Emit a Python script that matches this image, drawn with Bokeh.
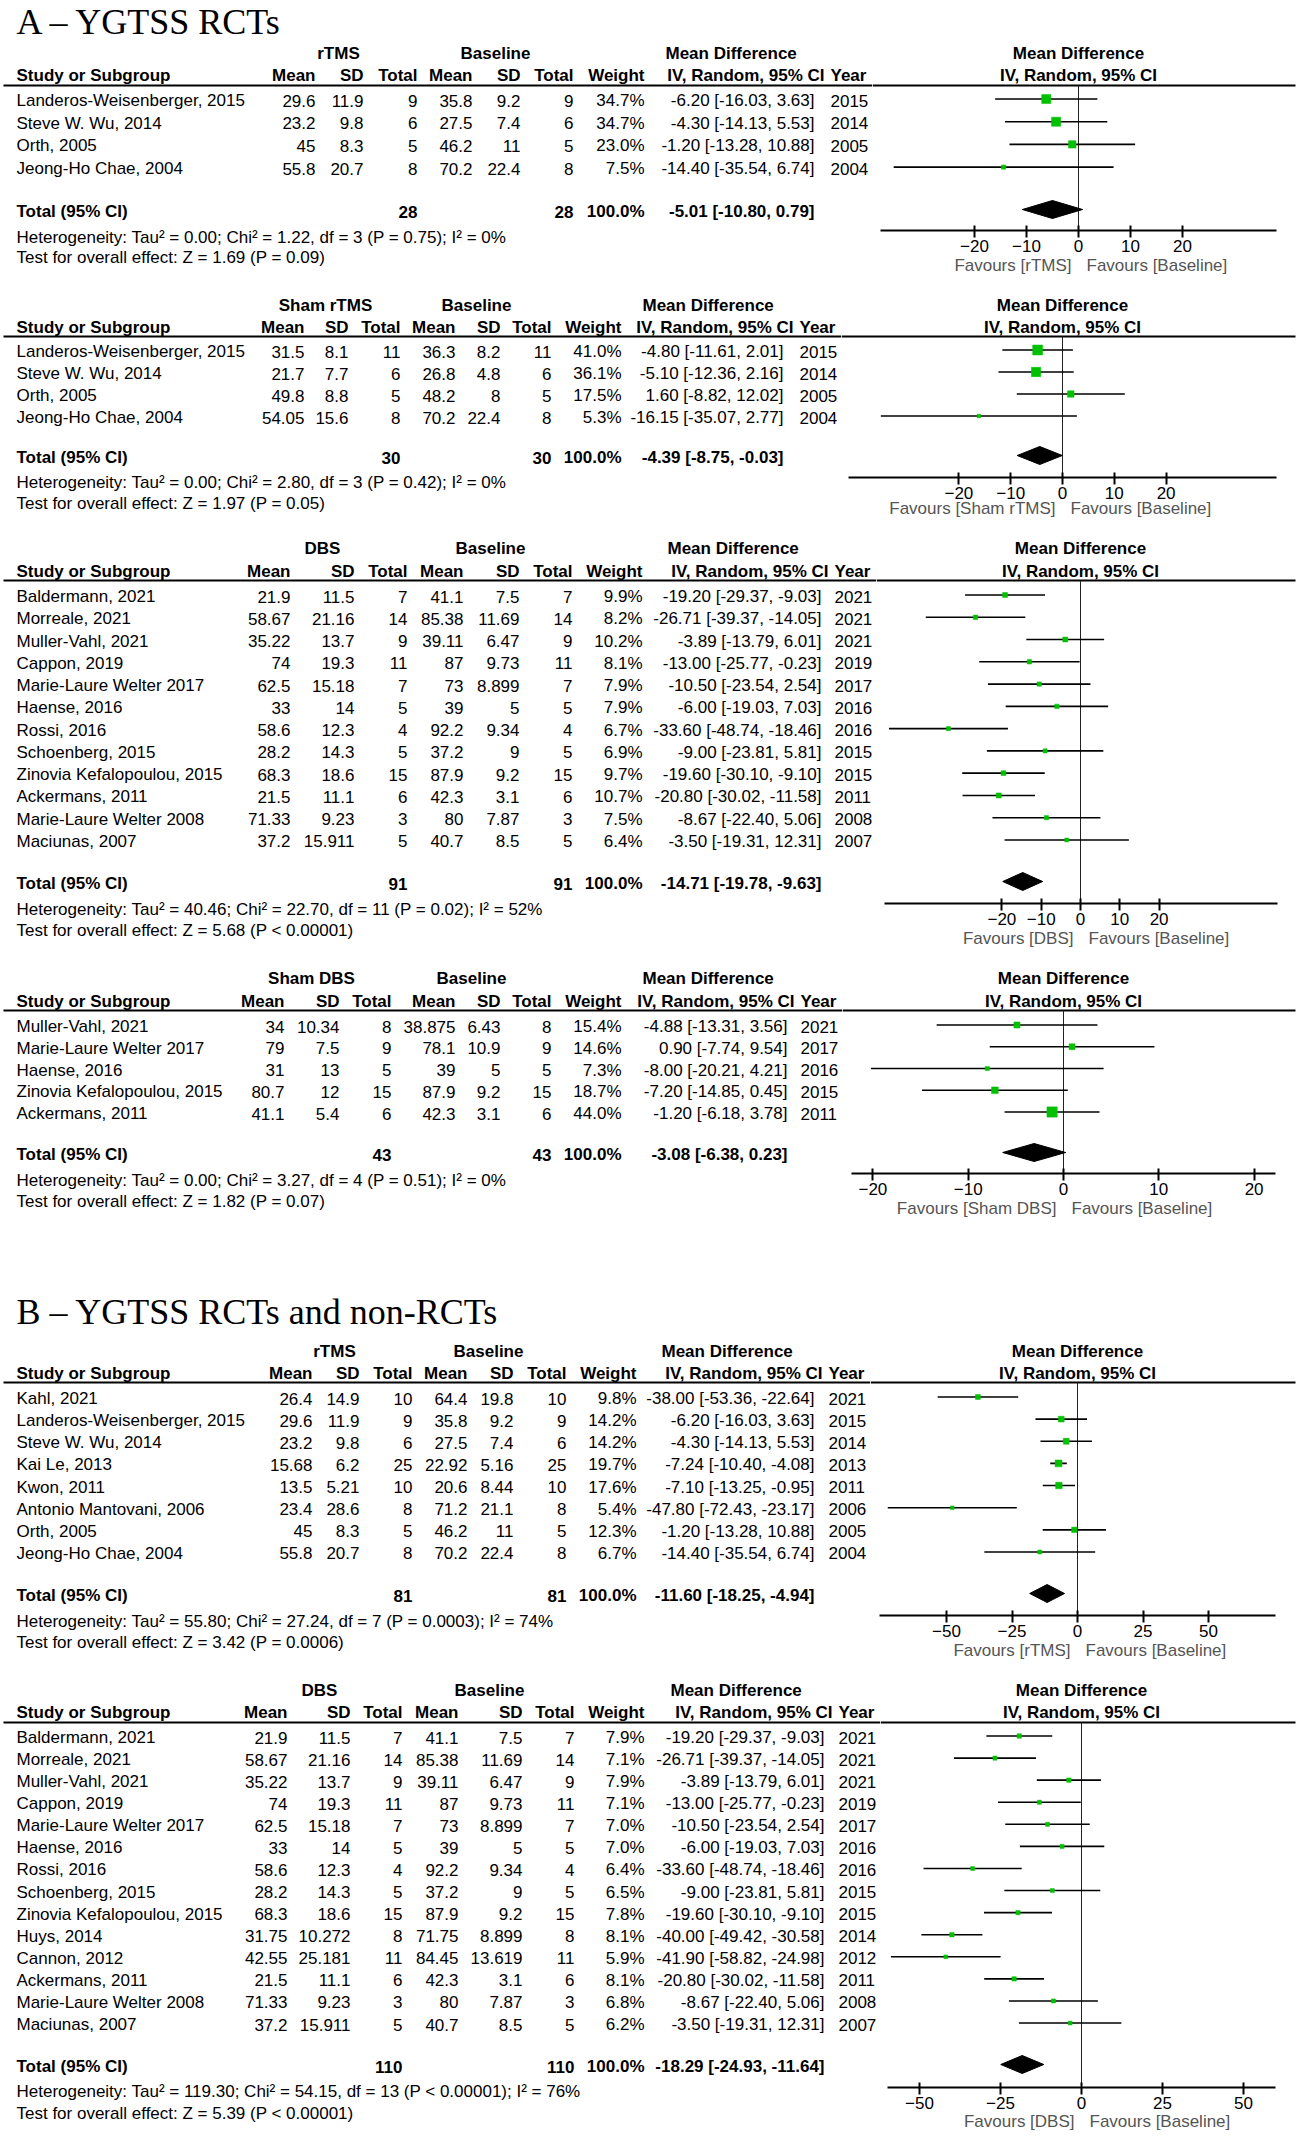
import math
from bokeh.plotting import figure
from bokeh.layouts import column, row
from bokeh.models import Range1d, LinearAxis, FixedTicker
from bokeh.core.properties import value
from bokeh.embed import file_html
from bokeh.resources import INLINE

# ---------------------------------------------------------------- data
# A1 : rTMS vs baseline (RCTs)
A1_group = "rTMS"
A1_study = ["Landeros-Weisenberger, 2015", "Steve W. Wu, 2014", "Orth, 2005", "Jeong-Ho Chae, 2004"]
A1_exp_mean = [29.6, 23.2, 45, 55.8]
A1_exp_sd = [11.9, 9.8, 8.3, 20.7]
A1_exp_n = [9, 6, 5, 8]
A1_base_mean = [35.8, 27.5, 46.2, 70.2]
A1_base_sd = [9.2, 7.4, 11, 22.4]
A1_base_n = [9, 6, 5, 8]
A1_weight = [34.7, 34.7, 23.0, 7.5]
A1_md = [-6.20, -4.30, -1.20, -14.40]
A1_lo = [-16.03, -14.13, -13.28, -35.54]
A1_hi = [3.63, 5.53, 10.88, 6.74]
A1_year = [2015, 2014, 2005, 2004]
A1_total_n = [28, 28]
A1_total_md = [-5.01, -10.80, 0.79]
A1_het = "Heterogeneity: Tau² = 0.00; Chi² = 1.22, df = 3 (P = 0.75); I² = 0%"
A1_test = "Test for overall effect: Z = 1.69 (P = 0.09)"
A1_ticks = [-20, -10, 0, 10, 20]

# A2 : Sham rTMS vs baseline
A2_group = "Sham rTMS"
A2_study = ["Landeros-Weisenberger, 2015", "Steve W. Wu, 2014", "Orth, 2005", "Jeong-Ho Chae, 2004"]
A2_exp_mean = [31.5, 21.7, 49.8, 54.05]
A2_exp_sd = [8.1, 7.7, 8.8, 15.6]
A2_exp_n = [11, 6, 5, 8]
A2_base_mean = [36.3, 26.8, 48.2, 70.2]
A2_base_sd = [8.2, 4.8, 8, 22.4]
A2_base_n = [11, 6, 5, 8]
A2_weight = [41.0, 36.1, 17.5, 5.3]
A2_md = [-4.80, -5.10, 1.60, -16.15]
A2_lo = [-11.61, -12.36, -8.82, -35.07]
A2_hi = [2.01, 2.16, 12.02, 2.77]
A2_year = [2015, 2014, 2005, 2004]
A2_total_n = [30, 30]
A2_total_md = [-4.39, -8.75, -0.03]
A2_het = "Heterogeneity: Tau² = 0.00; Chi² = 2.80, df = 3 (P = 0.42); I² = 0%"
A2_test = "Test for overall effect: Z = 1.97 (P = 0.05)"
A2_ticks = [-20, -10, 0, 10, 20]

# A3 : DBS vs baseline (RCTs)
A3_group = "DBS"
A3_study = ["Baldermann, 2021", "Morreale, 2021", "Muller-Vahl, 2021", "Cappon, 2019",
            "Marie-Laure Welter 2017", "Haense, 2016", "Rossi, 2016", "Schoenberg, 2015",
            "Zinovia Kefalopoulou, 2015", "Ackermans, 2011", "Marie-Laure Welter 2008", "Maciunas, 2007"]
A3_exp_mean = [21.9, 58.67, 35.22, 74, 62.5, 33, 58.6, 28.2, 68.3, 21.5, 71.33, 37.2]
A3_exp_sd = [11.5, 21.16, 13.7, 19.3, 15.18, 14, 12.3, 14.3, 18.6, 11.1, 9.23, 15.911]
A3_exp_n = [7, 14, 9, 11, 7, 5, 4, 5, 15, 6, 3, 5]
A3_base_mean = [41.1, 85.38, 39.11, 87, 73, 39, 92.2, 37.2, 87.9, 42.3, 80, 40.7]
A3_base_sd = [7.5, 11.69, 6.47, 9.73, 8.899, 5, 9.34, 9, 9.2, 3.1, 7.87, 8.5]
A3_base_n = [7, 14, 9, 11, 7, 5, 4, 5, 15, 6, 3, 5]
A3_weight = [9.9, 8.2, 10.2, 8.1, 7.9, 7.9, 6.7, 6.9, 9.7, 10.7, 7.5, 6.4]
A3_md = [-19.20, -26.71, -3.89, -13.00, -10.50, -6.00, -33.60, -9.00, -19.60, -20.80, -8.67, -3.50]
A3_lo = [-29.37, -39.37, -13.79, -25.77, -23.54, -19.03, -48.74, -23.81, -30.10, -30.02, -22.40, -19.31]
A3_hi = [-9.03, -14.05, 6.01, -0.23, 2.54, 7.03, -18.46, 5.81, -9.10, -11.58, 5.06, 12.31]
A3_year = [2021, 2021, 2021, 2019, 2017, 2016, 2016, 2015, 2015, 2011, 2008, 2007]
A3_total_n = [91, 91]
A3_total_md = [-14.71, -19.78, -9.63]
A3_het = "Heterogeneity: Tau² = 40.46; Chi² = 22.70, df = 11 (P = 0.02); I² = 52%"
A3_test = "Test for overall effect: Z = 5.68 (P < 0.00001)"
A3_ticks = [-20, -10, 0, 10, 20]

# A4 : Sham DBS vs baseline
A4_group = "Sham DBS"
A4_study = ["Muller-Vahl, 2021", "Marie-Laure Welter 2017", "Haense, 2016",
            "Zinovia Kefalopoulou, 2015", "Ackermans, 2011"]
A4_exp_mean = [34, 79, 31, 80.7, 41.1]
A4_exp_sd = [10.34, 7.5, 13, 12, 5.4]
A4_exp_n = [8, 9, 5, 15, 6]
A4_base_mean = [38.875, 78.1, 39, 87.9, 42.3]
A4_base_sd = [6.43, 10.9, 5, 9.2, 3.1]
A4_base_n = [8, 9, 5, 15, 6]
A4_weight = [15.4, 14.6, 7.3, 18.7, 44.0]
A4_md = [-4.88, 0.90, -8.00, -7.20, -1.20]
A4_lo = [-13.31, -7.74, -20.21, -14.85, -6.18]
A4_hi = [3.56, 9.54, 4.21, 0.45, 3.78]
A4_year = [2021, 2017, 2016, 2015, 2011]
A4_total_n = [43, 43]
A4_total_md = [-3.08, -6.38, 0.23]
A4_het = "Heterogeneity: Tau² = 0.00; Chi² = 3.27, df = 4 (P = 0.51); I² = 0%"
A4_test = "Test for overall effect: Z = 1.82 (P = 0.07)"
A4_ticks = [-20, -10, 0, 10, 20]

# B1 : rTMS vs baseline (RCTs and non-RCTs)
B1_group = "rTMS"
B1_study = ["Kahl, 2021", "Landeros-Weisenberger, 2015", "Steve W. Wu, 2014", "Kai Le, 2013",
            "Kwon, 2011", "Antonio Mantovani, 2006", "Orth, 2005", "Jeong-Ho Chae, 2004"]
B1_exp_mean = [26.4, 29.6, 23.2, 15.68, 13.5, 23.4, 45, 55.8]
B1_exp_sd = [14.9, 11.9, 9.8, 6.2, 5.21, 28.6, 8.3, 20.7]
B1_exp_n = [10, 9, 6, 25, 10, 8, 5, 8]
B1_base_mean = [64.4, 35.8, 27.5, 22.92, 20.6, 71.2, 46.2, 70.2]
B1_base_sd = [19.8, 9.2, 7.4, 5.16, 8.44, 21.1, 11, 22.4]
B1_base_n = [10, 9, 6, 25, 10, 8, 5, 8]
B1_weight = [9.8, 14.2, 14.2, 19.7, 17.6, 5.4, 12.3, 6.7]
B1_md = [-38.00, -6.20, -4.30, -7.24, -7.10, -47.80, -1.20, -14.40]
B1_lo = [-53.36, -16.03, -14.13, -10.40, -13.25, -72.43, -13.28, -35.54]
B1_hi = [-22.64, 3.63, 5.53, -4.08, -0.95, -23.17, 10.88, 6.74]
B1_year = [2021, 2015, 2014, 2013, 2011, 2006, 2005, 2004]
B1_total_n = [81, 81]
B1_total_md = [-11.60, -18.25, -4.94]
B1_het = "Heterogeneity: Tau² = 55.80; Chi² = 27.24, df = 7 (P = 0.0003); I² = 74%"
B1_test = "Test for overall effect: Z = 3.42 (P = 0.0006)"
B1_ticks = [-50, -25, 0, 25, 50]

# B2 : DBS vs baseline (RCTs and non-RCTs)
B2_group = "DBS"
B2_study = ["Baldermann, 2021", "Morreale, 2021", "Muller-Vahl, 2021", "Cappon, 2019",
            "Marie-Laure Welter 2017", "Haense, 2016", "Rossi, 2016", "Schoenberg, 2015",
            "Zinovia Kefalopoulou, 2015", "Huys, 2014", "Cannon, 2012", "Ackermans, 2011",
            "Marie-Laure Welter 2008", "Maciunas, 2007"]
B2_exp_mean = [21.9, 58.67, 35.22, 74, 62.5, 33, 58.6, 28.2, 68.3, 31.75, 42.55, 21.5, 71.33, 37.2]
B2_exp_sd = [11.5, 21.16, 13.7, 19.3, 15.18, 14, 12.3, 14.3, 18.6, 10.272, 25.181, 11.1, 9.23, 15.911]
B2_exp_n = [7, 14, 9, 11, 7, 5, 4, 5, 15, 8, 11, 6, 3, 5]
B2_base_mean = [41.1, 85.38, 39.11, 87, 73, 39, 92.2, 37.2, 87.9, 71.75, 84.45, 42.3, 80, 40.7]
B2_base_sd = [7.5, 11.69, 6.47, 9.73, 8.899, 5, 9.34, 9, 9.2, 8.899, 13.619, 3.1, 7.87, 8.5]
B2_base_n = [7, 14, 9, 11, 7, 5, 4, 5, 15, 8, 11, 6, 3, 5]
B2_weight = [7.9, 7.1, 7.9, 7.1, 7.0, 7.0, 6.4, 6.5, 7.8, 8.1, 5.9, 8.1, 6.8, 6.2]
B2_md = [-19.20, -26.71, -3.89, -13.00, -10.50, -6.00, -33.60, -9.00, -19.60, -40.00, -41.90, -20.80, -8.67, -3.50]
B2_lo = [-29.37, -39.37, -13.79, -25.77, -23.54, -19.03, -48.74, -23.81, -30.10, -49.42, -58.82, -30.02, -22.40, -19.31]
B2_hi = [-9.03, -14.05, 6.01, -0.23, 2.54, 7.03, -18.46, 5.81, -9.10, -30.58, -24.98, -11.58, 5.06, 12.31]
B2_year = [2021, 2021, 2021, 2019, 2017, 2016, 2016, 2015, 2015, 2014, 2012, 2011, 2008, 2007]
B2_total_n = [110, 110]
B2_total_md = [-18.29, -24.93, -11.64]
B2_het = "Heterogeneity: Tau² = 119.30; Chi² = 54.15, df = 13 (P < 0.00001); I² = 76%"
B2_test = "Test for overall effect: Z = 5.39 (P < 0.00001)"
B2_ticks = [-50, -25, 0, 25, 50]

TITLE_A = "A – YGTSS RCTs"
TITLE_B = "B – YGTSS RCTs and non-RCTs"
COL_HEADERS = ["Mean", "SD", "Total", "Mean", "SD", "Total", "Weight"]

# ---------------------------------------------------------------- style
SANS = value("Liberation Sans")
SERIF = value("Liberation Serif")
FS = "17px"
GREEN = "#00C000"
PAGE_RIGHT = 1299
LEFT_X = 16


def mk(group, study, em, esd, en, bm, bsd, bn, w, md, lo, hi, yr, tn, tmd, het, test, ticks):
    return dict(group=group, study=study, cols=[em, esd, en, bm, bsd, bn], weight=w,
                md=md, lo=lo, hi=hi, year=yr, tn=tn, tmd=tmd, het=het, test=test, ticks=ticks)


DATA = [
    mk(A1_group, A1_study, A1_exp_mean, A1_exp_sd, A1_exp_n, A1_base_mean, A1_base_sd, A1_base_n,
       A1_weight, A1_md, A1_lo, A1_hi, A1_year, A1_total_n, A1_total_md, A1_het, A1_test, A1_ticks),
    mk(A2_group, A2_study, A2_exp_mean, A2_exp_sd, A2_exp_n, A2_base_mean, A2_base_sd, A2_base_n,
       A2_weight, A2_md, A2_lo, A2_hi, A2_year, A2_total_n, A2_total_md, A2_het, A2_test, A2_ticks),
    mk(A3_group, A3_study, A3_exp_mean, A3_exp_sd, A3_exp_n, A3_base_mean, A3_base_sd, A3_base_n,
       A3_weight, A3_md, A3_lo, A3_hi, A3_year, A3_total_n, A3_total_md, A3_het, A3_test, A3_ticks),
    mk(A4_group, A4_study, A4_exp_mean, A4_exp_sd, A4_exp_n, A4_base_mean, A4_base_sd, A4_base_n,
       A4_weight, A4_md, A4_lo, A4_hi, A4_year, A4_total_n, A4_total_md, A4_het, A4_test, A4_ticks),
    mk(B1_group, B1_study, B1_exp_mean, B1_exp_sd, B1_exp_n, B1_base_mean, B1_base_sd, B1_base_n,
       B1_weight, B1_md, B1_lo, B1_hi, B1_year, B1_total_n, B1_total_md, B1_het, B1_test, B1_ticks),
    mk(B2_group, B2_study, B2_exp_mean, B2_exp_sd, B2_exp_n, B2_base_mean, B2_base_sd, B2_base_n,
       B2_weight, B2_md, B2_lo, B2_hi, B2_year, B2_total_n, B2_total_md, B2_het, B2_test, B2_ticks),
]

# layout of each panel, in page pixels
LAYOUT = [
    dict(top=0, bottom=282, title=TITLE_A, title_y=21, grp_y=53, hdr_y=75, line_y=85, row0=100, step=22.7,
         total_y=211, het_y=237, test_y=257, axis_y=230, fav_y=265, cols=[315, 363, 417, 472, 520, 573, 644],
         grp=[338, 495], md_x=665, md_r=814, year_x=830, zero=1078, scale=5.2, bound=38),
    dict(top=282, bottom=530, title=None, grp_y=305, hdr_y=327, line_y=336, row0=351, step=22.0,
         total_y=457, het_y=482, test_y=503, axis_y=477, fav_y=508, cols=[304, 348, 400, 455, 500, 551, 621],
         grp=[325, 476], md_x=642, md_r=783, year_x=799, zero=1062, scale=5.18, bound=41.4),
    dict(top=530, bottom=960, title=None, grp_y=548, hdr_y=571, line_y=580, row0=596, step=22.27,
         total_y=883, het_y=909, test_y=930, axis_y=903, fav_y=938, cols=[290, 354, 407, 463, 519, 572, 642],
         grp=[322, 490], md_x=667, md_r=821, year_x=834, zero=1080, scale=3.93, bound=50),
    dict(top=960, bottom=1280, title=None, grp_y=978, hdr_y=1001, line_y=1010, row0=1026, step=21.75,
         total_y=1154, het_y=1180, test_y=1201, axis_y=1173, fav_y=1208, cols=[284, 339, 391, 455, 500, 551, 621],
         grp=[311, 471], md_x=642, md_r=787, year_x=800, zero=1063, scale=9.53, bound=22.2),
    dict(top=1280, bottom=1675, title=TITLE_B, title_y=1311, grp_y=1351, hdr_y=1373, line_y=1382, row0=1398,
         step=22.14, total_y=1595, het_y=1621, test_y=1642, axis_y=1615, fav_y=1650,
         cols=[312, 359, 412, 467, 513, 566, 636], grp=[334, 488], md_x=661, md_r=814, year_x=828,
         zero=1077, scale=2.62, bound=75.6),
    dict(top=1675, bottom=2139, title=None, grp_y=1690, hdr_y=1712, line_y=1722, row0=1737, step=22.08,
         total_y=2066, het_y=2091, test_y=2113, axis_y=2087, fav_y=2121, cols=[287, 350, 402, 458, 522, 574, 644],
         grp=[319, 489], md_x=670, md_r=824, year_x=838, zero=1081, scale=3.24, bound=60),
]


def put_text(fig, x, y, texts, align="left", bold=False, size=FS, font=SANS, color="#000000", baseline="middle"):
    n = len(texts)
    xs = list(x) if isinstance(x, (list, tuple)) else [x] * n
    ys = list(y) if isinstance(y, (list, tuple)) else [y] * n
    fig.text(x=xs, y=ys, text=list(texts), text_align=align, text_baseline=baseline,
             text_font=font, text_font_size=size, text_font_style="bold" if bold else "normal",
             text_color=color)


def ci_label(m, a, b):
    return f"{m:.2f} [{a:.2f}, {b:.2f}]"


def bare_figure(width, height, xr, yr):
    f = figure(width=width, height=height, x_range=xr, y_range=yr,
               x_axis_location=None, y_axis_location=None, toolbar_location=None,
               output_backend="svg", min_border=0)
    f.outline_line_color = None
    f.grid.visible = False
    f.background_fill_color = "white"
    f.border_fill_color = "white"
    return f


def build(d, c):
    top, bottom = c["top"], c["bottom"]
    H = bottom - top
    z, s = c["zero"], c["scale"]
    edge = c["year_x"] + 42

    # ---------------- left: the table
    L = bare_figure(edge, H, Range1d(0, edge), Range1d(bottom, top))

    n = len(d["study"])
    ys = [c["row0"] + i * c["step"] for i in range(n)]

    if c["title"]:
        put_text(L, LEFT_X, c["title_y"], [c["title"]], font=SERIF, size="36px")
    put_text(L, c["grp"], c["grp_y"], [d["group"], "Baseline"], "center", True)
    put_text(L, c["md_x"], c["grp_y"], ["Mean Difference"], "left", True)
    put_text(L, LEFT_X, c["hdr_y"], ["Study or Subgroup"], "left", True)
    put_text(L, c["cols"], c["hdr_y"], COL_HEADERS, "right", True)
    put_text(L, c["year_x"] - 6, c["hdr_y"], ["IV, Random, 95% CI"], "right", True)
    put_text(L, c["year_x"], c["hdr_y"], ["Year"], "left", True)
    L.segment(x0=[3], y0=[c["line_y"]], x1=[edge], y1=[c["line_y"]], line_color="black", line_width=2)

    put_text(L, LEFT_X, ys, d["study"])
    for k in range(6):
        put_text(L, c["cols"][k], ys, [str(v) for v in d["cols"][k]], "right")
    put_text(L, c["cols"][6], ys, [f"{w:.1f}%" for w in d["weight"]], "right")
    put_text(L, c["md_r"], ys, [ci_label(m, a, b) for m, a, b in zip(d["md"], d["lo"], d["hi"])], "right")
    put_text(L, c["year_x"], ys, [str(y) for y in d["year"]])

    ty = c["total_y"]
    put_text(L, LEFT_X, ty, ["Total (95% CI)"], "left", True)
    put_text(L, [c["cols"][2], c["cols"][5], c["cols"][6]], ty,
             [str(d["tn"][0]), str(d["tn"][1]), "100.0%"], "right", True)
    put_text(L, c["md_r"], ty, [ci_label(*d["tmd"])], "right", True)
    put_text(L, LEFT_X, c["het_y"], [d["het"]])
    put_text(L, LEFT_X, c["test_y"], [d["test"]])

    # ---------------- right: the forest plot
    x0 = (edge - z) / s
    x1 = (PAGE_RIGHT - z) / s
    xl = (1295 - z) / s
    R = bare_figure(PAGE_RIGHT - edge, H, Range1d(x0, x1), Range1d(bottom, top))

    put_text(R, 0, c["grp_y"], ["Mean Difference"], "center", True)
    put_text(R, 0, c["hdr_y"], ["IV, Random, 95% CI"], "center", True)
    R.segment(x0=[x0], y0=[c["line_y"]], x1=[xl], y1=[c["line_y"]], line_color="black", line_width=2)
    R.segment(x0=[0], y0=[c["line_y"]], x1=[0], y1=[c["axis_y"]], line_color="#222222", line_width=1)

    my = [y - 1.5 for y in ys]
    R.segment(x0=d["lo"], y0=my, x1=d["hi"], y1=my, line_color="black", line_width=1.6)
    R.scatter(x=d["md"], y=my, size=[1.55 * math.sqrt(w) for w in d["weight"]], marker="square",
              fill_color=GREEN, line_color=GREEN, line_width=0.5)

    m, a, b = d["tmd"]
    dy = ty - 2
    R.patch(x=[a, m, b, m], y=[dy, dy - 9, dy, dy + 9], fill_color="black", line_color="black", line_width=1)

    # favours labels either side of the line of no effect
    put_text(R, -7.0 / s, c["fav_y"], ["Favours [" + d["group"] + "]"], "right", color="#555555")
    put_text(R, 8.0 / s, c["fav_y"], ["Favours [Baseline]"], "left", color="#555555")

    ax = LinearAxis(ticker=FixedTicker(ticks=d["ticks"], minor_ticks=[]), bounds=(-c["bound"], c["bound"]),
                    fixed_location=c["axis_y"])
    ax.axis_line_width = 2
    ax.axis_line_color = "black"
    ax.major_tick_line_width = 2
    ax.major_tick_line_color = "black"
    ax.major_tick_in = 5
    ax.major_tick_out = 7
    ax.minor_tick_line_color = None
    ax.major_label_standoff = 2
    ax.major_label_text_font = "Liberation Sans"
    ax.major_label_text_font_size = FS
    ax.major_label_text_color = "black"
    R.add_layout(ax, "below")

    return row(L, R)


layout = column(*[build(d, c) for d, c in zip(DATA, LAYOUT)])

open("out.html", "w").write(file_html(layout, INLINE, title="YGTSS forest plots"))
